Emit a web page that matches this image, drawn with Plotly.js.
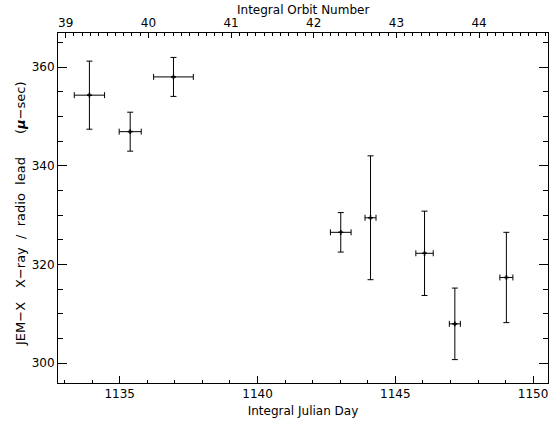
<!DOCTYPE html>
<html>
<head>
<meta charset="utf-8">
<script src="https://cdn.plot.ly/plotly-3.0.1.min.js"></script>
<style>
html,body{margin:0;padding:0;background:#fff;}
#chart{width:553px;height:423px;}
</style>
</head>
<body>
<div id="chart"></div>
<script>
// Integral Julian Day of each measurement
var julianDay = [1133.90, 1135.38, 1136.95, 1143.02, 1144.10, 1146.06, 1147.16, 1149.03];
// half-width of the time bin (days)
var julianDayErr = [0.55, 0.40, 0.72, 0.375, 0.20, 0.315, 0.20, 0.236];
// JEM-X X-ray / radio lead (micro-seconds)
var leadUs = [354.3, 346.9, 358.0, 326.5, 329.45, 322.25, 307.95, 317.35];
var leadErr = [6.9, 3.95, 3.95, 4.0, 12.55, 8.55, 7.25, 9.15];
// relation between day and orbit (orbit 39 starts at this day, 3 days per orbit)
var orbit39Day = 1133.04;
var daysPerOrbit = 3;

var xRange = [1132.76, 1150.54];
var yRange = [295.96, 366.9];
var orbitRange = xRange.map(function(d){ return 39 + (d - orbit39Day) / daysPerOrbit; });

var font = {family: 'DejaVu Sans', size: 12, color: '#000'};
var yTitleFont = {family: 'DejaVu Sans', size: 13, color: '#000'};

var data = [
  {
    type: 'scatter', mode: 'markers',
    x: julianDay, y: leadUs,
    marker: {symbol: 'cross', size: 4, color: '#000'},
    error_x: {type: 'data', array: julianDayErr, visible: true, color: '#000', thickness: 1, width: 3},
    error_y: {type: 'data', array: leadErr, visible: true, color: '#000', thickness: 1, width: 3},
    hoverinfo: 'none', showlegend: false
  },
  {
    type: 'scatter', mode: 'markers',
    x: orbitRange, y: [yRange[0], yRange[0]],
    xaxis: 'x2', yaxis: 'y',
    marker: {opacity: 0}, hoverinfo: 'none', showlegend: false
  }
];

function yTitle(text, ypx) {
  return {
    text: text, textangle: -90, showarrow: false,
    xref: 'paper', yref: 'paper',
    x: (20 - 58) / 490, y: (383 - ypx) / 350,
    xanchor: 'center', yanchor: 'middle', font: yTitleFont
  };
}

var layout = {
  width: 553, height: 423,
  margin: {l: 58, r: 5, t: 33, b: 40},
  paper_bgcolor: '#fff', plot_bgcolor: '#fff',
  font: font,
  showlegend: false,
  xaxis: {
    range: xRange, showgrid: false, zeroline: false,
    showline: true, linecolor: '#000', linewidth: 1, mirror: false,
    ticks: 'inside', ticklen: 7, tickwidth: 1, tickcolor: '#000',
    tick0: 1135, dtick: 5,
    minor: {dtick: 1, ticks: 'inside', ticklen: 3, tickcolor: '#000', tickwidth: 1, showgrid: false},
    tickfont: font,
    title: {text: 'Integral Julian Day', font: font, standoff: 6}
  },
  xaxis2: {
    range: orbitRange, overlaying: 'x', side: 'top', anchor: 'y',
    showgrid: false, zeroline: false,
    showline: true, linecolor: '#000', linewidth: 1,
    ticks: 'inside', ticklen: 5, tickwidth: 1, tickcolor: '#000',
    tick0: 39, dtick: 1,
    minor: {dtick: 0.1, ticks: 'inside', ticklen: 3, tickcolor: '#000', tickwidth: 1, showgrid: false},
    tickfont: font
  },
  yaxis: {
    range: yRange, showgrid: false, zeroline: false,
    showline: true, linecolor: '#000', linewidth: 1, mirror: 'ticks',
    ticks: 'inside', ticklen: 9, tickwidth: 1, tickcolor: '#000',
    tick0: 300, dtick: 20,
    minor: {dtick: 5, ticks: 'inside', ticklen: 5, tickcolor: '#000', tickwidth: 1, showgrid: false},
    tickfont: font, ticklabelstandoff: 0
  },
  annotations: [
    {
      text: 'Integral Orbit Number', showarrow: false,
      xref: 'paper', yref: 'paper', x: 0.5, y: (383 - 10) / 350,
      xanchor: 'center', yanchor: 'middle', font: font
    },
    yTitle('JEM\u2212X', 324),
    yTitle('X\u2212ray\u00a0\u00a0/\u00a0\u00a0radio\u00a0\u00a0lead', 223),
    yTitle('(<b><i>\u03bc</i></b>\u2212sec)', 108)
  ]
};

Plotly.newPlot('chart', data, layout, {staticPlot: true, displayModeBar: false});
</script>
</body>
</html>
